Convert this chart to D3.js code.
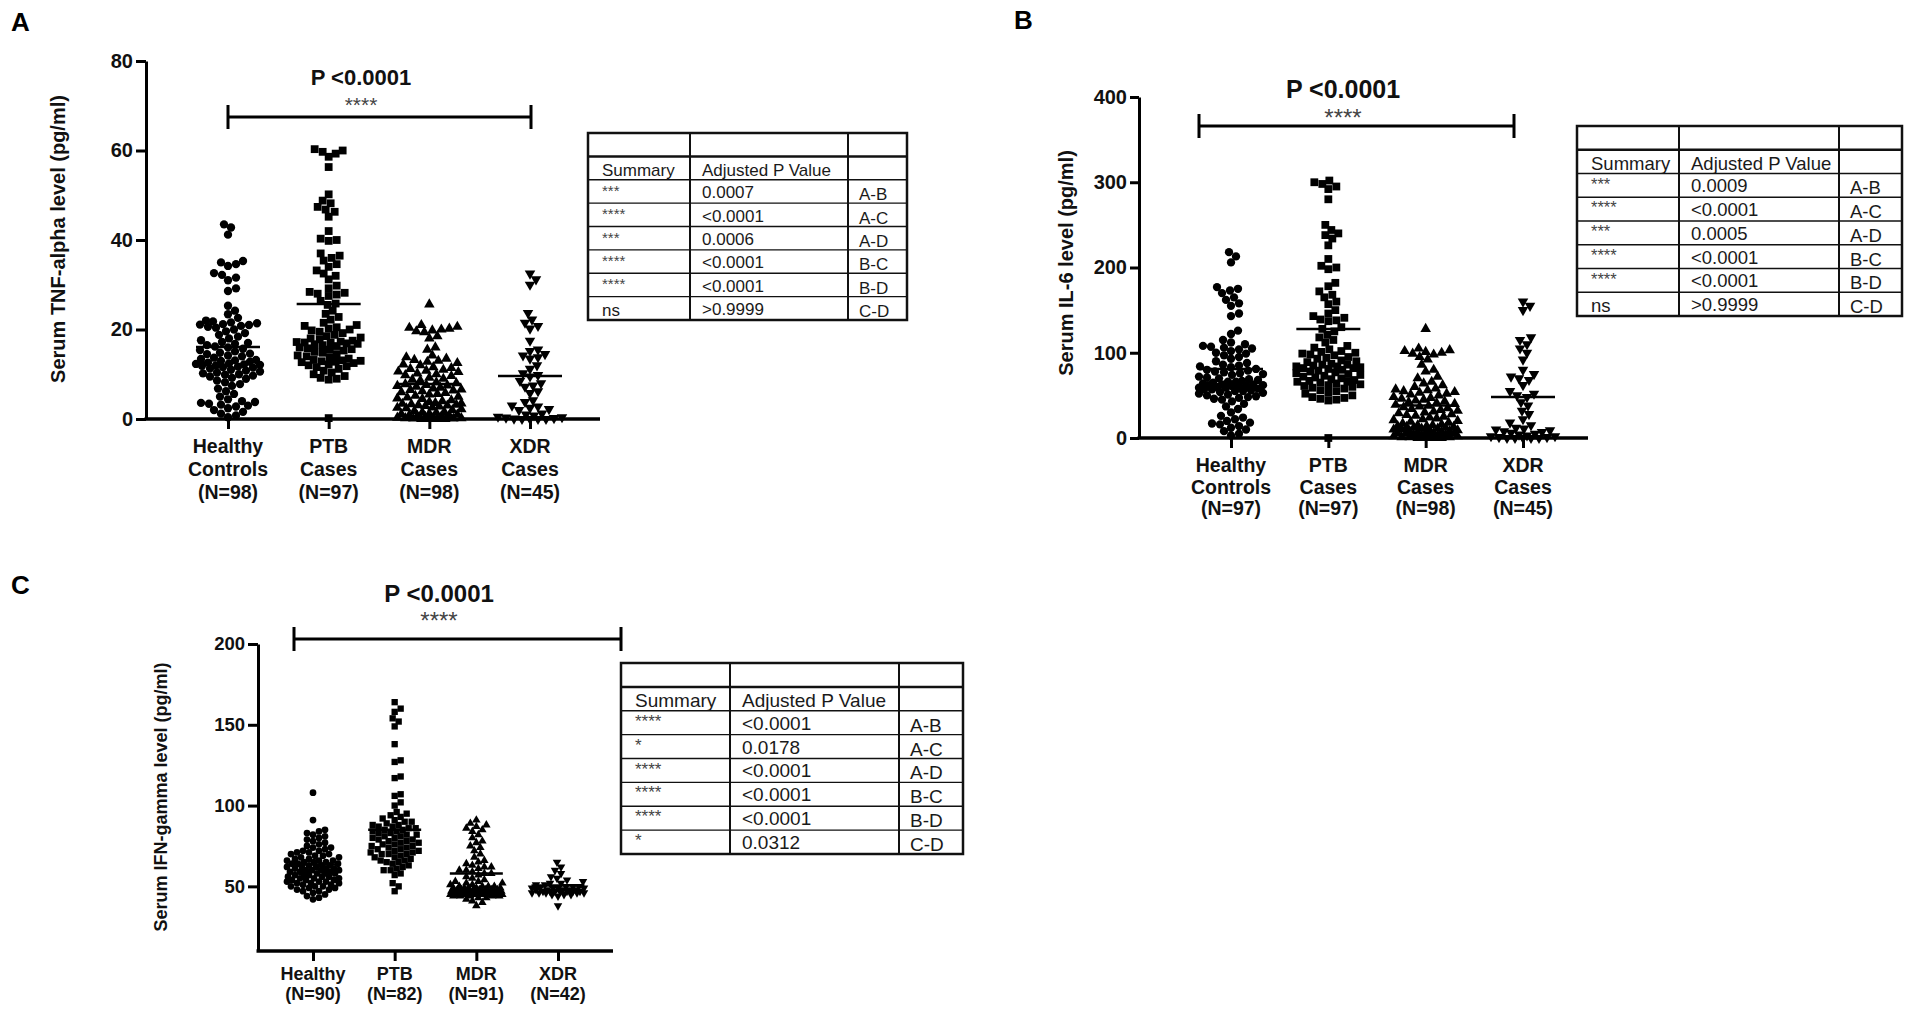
<!DOCTYPE html>
<html>
<head>
<meta charset="utf-8">
<script src="https://cdn.jsdelivr.net/npm/d3@7"></script>
<style>
  body { margin: 0; background: #fff; }
  svg { display: block; }
  text { font-family: 'Liberation Sans', Arial, sans-serif; }
</style>
</head>
<body>
<svg id="fig" width="1910" height="1020"></svg>
<script>
  // ---- data ----
  var groups = ['Healthy', 'PTB', 'MDR', 'XDR'];

  var tnfHealthy = [43.5, 42.8, 41.2, 35.3, 35.0, 34.6, 34.2, 32.6, 32.2, 31.6, 31.0, 29.2, 28.6, 25.3, 24.2, 23.4,
    22.6, 22.0, 21.8, 21.6, 21.4, 21.2, 21.0, 20.8, 20.4, 20.0, 19.6, 19.2, 18.8, 18.4, 18.0, 17.6, 17.2, 17.0, 16.8,
    16.5, 16.2, 16.0, 15.7, 15.4, 15.1, 14.8, 14.5, 14.2, 14.0, 13.7, 13.4, 13.2, 13.0, 12.8, 12.6, 12.4, 12.2, 12.1,
    12.0, 11.9, 11.7, 11.5, 11.3, 11.0, 10.8, 10.6, 10.4, 10.2, 10.0, 9.9, 9.7, 9.5, 9.2, 9.0, 8.6, 8.2, 7.8, 7.4, 6.8,
    6.2, 5.6, 5.0, 4.4, 4.0, 3.8, 3.6, 3.4, 3.2, 3.0, 2.8, 2.4, 2.0, 1.6, 1.2, 0.8, 0.4, 12.3, 13.1, 14.6, 21.1, 20.6, 11.6];
  var tnfPTB = [60.3, 60.0, 59.7, 59.3, 58.6, 56.3, 50.2, 48.8, 48.2, 47.4, 46.8, 46.3, 45.2, 42.0, 40.3, 40.0, 39.8,
    37.0, 36.5, 36.0, 35.4, 34.6, 34.0, 33.2, 32.5, 32.0, 31.2, 29.8, 29.2, 28.4, 28.2, 28.0, 27.8, 27.5, 26.4, 25.8,
    25.5, 24.2, 23.5, 22.8, 22.2, 21.5, 21.0, 20.8, 20.5, 20.2, 20.0, 19.8, 19.5, 19.2, 18.8, 18.5, 18.2, 18.0, 17.8,
    17.5, 17.3, 17.1, 17.0, 16.9, 16.7, 16.5, 16.3, 16.0, 15.8, 15.5, 15.3, 15.0, 14.8, 14.5, 14.2, 14.0, 13.8, 13.5,
    13.2, 13.0, 12.9, 12.7, 12.5, 12.2, 12.0, 11.6, 11.2, 10.8, 10.4, 10.0, 9.6, 9.2, 9.0, 8.8, 0.2, 17.2, 16.8, 13.1,
    12.8, 15.6, 11.8];
  var tnfMDR = [25.6, 21.0, 20.6, 20.4, 20.2, 20.0, 19.8, 19.6, 19.4, 18.5, 18.0, 16.0, 15.5, 14.2, 13.5, 13.2, 13.0,
    12.8, 12.5, 12.0, 11.6, 11.2, 11.0, 10.8, 10.5, 10.2, 10.0, 9.6, 9.2, 9.0, 8.6, 8.2, 8.0, 7.8, 7.5, 7.2, 7.0, 6.8,
    6.5, 6.2, 6.0, 5.8, 5.5, 5.2, 5.0, 4.8, 4.5, 4.2, 4.0, 3.8, 3.6, 3.4, 3.2, 3.0, 2.8, 2.6, 2.4, 2.2, 2.0, 1.8, 1.6,
    1.4, 1.2, 1.0, 0.9, 0.8, 0.6, 0.5, 0.4, 0.3, 0.2, 0.1, 0, 0, 0, 0, 12.2, 11.4, 10.6, 9.8, 8.8, 7.6, 7.4, 6.6, 6.4,
    5.6, 4.6, 3.5, 3.3, 3.1, 2.9, 2.5, 1.5, 1.1, 0.7, 0.2, 0.1, 13.8];
  var tnfXDR = [32.5, 31.2, 30.0, 23.7, 22.2, 21.5, 20.8, 20.2, 17.5, 15.5, 15.2, 14.5, 14.2, 13.8, 13.5, 12.0, 11.2,
    10.2, 9.8, 9.5, 8.5, 8.0, 7.5, 7.2, 6.2, 5.8, 4.2, 3.8, 3.0, 2.8, 2.5, 2.2, 2.0, 1.2, 1.0, 0.8, 0.5, 0.4, 0.3, 0.2,
    0.1, 0, 0, 0, 0];
  var tnfMeans = [16.1, 25.7, 7.8, 9.6];

  var il6Healthy = [218, 213, 206, 177, 175, 173, 170, 165, 162, 158, 155, 146, 143, 126, 122, 115, 112, 110, 108, 106,
    105, 104, 102, 99, 97, 95, 93, 90, 88, 86, 85, 83, 81, 80, 79, 78, 76, 75, 74, 72, 71, 69, 68, 67, 66, 65, 64, 63,
    62, 62, 61, 60, 60, 59, 58, 57, 56, 55, 54, 53, 52, 50, 49, 48, 47, 45, 43, 40, 37, 34, 30, 26, 24, 20, 18, 17, 16,
    12, 10, 8, 5, 3, 63, 61, 59, 57, 55, 66, 70, 77, 84, 100, 107, 51, 46, 22, 14];
  var il6PTB = [302, 300, 298, 295, 292, 280, 250, 244, 240, 238, 234, 226, 210, 202, 200, 198, 182, 178, 172, 168, 165,
    160, 157, 150, 146, 143, 141, 139, 138, 137, 130, 128, 125, 121, 118, 115, 112, 108, 106, 104, 102, 101, 100, 99,
    98, 97, 95, 93, 91, 90, 89, 87, 86, 85, 84, 83, 82, 81, 80, 79, 78, 77, 76, 75, 74, 72, 71, 70, 68, 67, 66, 65, 64,
    63, 62, 60, 59, 58, 56, 55, 53, 52, 50, 48, 47, 46, 45, 44, 0, 86, 84, 82, 69, 66, 61, 73, 94];
  var il6MDR = [128, 105, 103, 102, 101, 100, 99, 98, 95, 92, 86, 80, 78, 72, 70, 66, 64, 62, 60, 58, 56, 55, 54, 53,
    52, 50, 48, 47, 46, 44, 42, 41, 40, 39, 38, 36, 35, 34, 33, 32, 30, 29, 28, 27, 26, 25, 24, 22, 21, 20, 19, 18, 17,
    16, 15, 14, 14, 13, 13, 12, 12, 11, 11, 10, 10, 9, 8, 8, 7, 7, 6, 6, 5, 5, 4, 4, 3, 3, 2, 2, 1, 1, 0, 0, 0, 57, 51,
    45, 37, 31, 23, 15, 9, 6, 3, 1, 0, 43];
  var il6XDR = [160, 155, 150, 118, 115, 110, 105, 100, 92, 80, 75, 72, 70, 68, 62, 55, 52, 50, 48, 42, 38, 32, 28, 22,
    18, 15, 12, 10, 8, 7, 6, 5, 4, 3, 2, 2, 1, 1, 0, 0, 0, 0, 0, 9, 11];
  var il6Means = [81, 128, 38, 48];

  var ifnHealthy = [108, 91, 85, 84, 83, 82, 81, 80, 79, 78, 77, 76, 75, 74, 73, 72, 71, 70, 70, 69, 68, 67, 67, 66, 66,
    65, 65, 64, 64, 63, 63, 62, 62, 61, 61, 60, 60, 60, 59, 59, 58, 58, 58, 57, 57, 56, 56, 55, 55, 55, 54, 54, 53, 53,
    52, 52, 52, 51, 51, 50, 50, 49, 49, 48, 48, 47, 47, 46, 45, 44, 43, 42, 62, 63, 64, 59, 61, 65, 68, 71, 72, 74, 56,
    57, 53, 54, 60, 66, 69, 50];
  var ifnPTB = [164, 160, 158, 154, 152, 149, 138, 128, 127, 118, 117, 107, 106, 102, 96, 95, 94, 92, 91, 90, 89, 88,
    87, 86, 86, 85, 85, 84, 83, 82, 82, 81, 80, 80, 79, 78, 78, 77, 76, 76, 75, 75, 74, 73, 72, 72, 71, 70, 70, 69, 68,
    67, 66, 65, 65, 64, 63, 62, 61, 60, 60, 58, 57, 52, 50, 47, 93, 88, 84, 81, 79, 77, 74, 73, 71, 70, 68, 66, 83, 87,
    90, 100];
  var ifnMDR = [91, 89, 88, 87, 86, 85, 84, 82, 80, 78, 77, 75, 74, 72, 70, 68, 66, 65, 64, 63, 62, 62, 61, 60, 60, 59,
    58, 57, 56, 55, 54, 53, 52, 52, 51, 51, 50, 50, 50, 49, 49, 49, 49, 48, 48, 48, 48, 48, 47, 47, 47, 47, 47, 47, 46,
    46, 46, 46, 46, 46, 46, 45, 45, 45, 45, 45, 45, 45, 44, 44, 44, 44, 43, 43, 42, 41, 40, 38, 47, 46, 45, 48, 49, 50,
    44, 46, 47, 45, 48, 53, 58];
  var ifnXDR = [65, 62, 60, 58, 56, 55, 54, 53, 52, 52, 51, 51, 50, 50, 50, 49, 49, 49, 49, 48, 48, 48, 48, 48, 47, 47,
    47, 47, 47, 47, 46, 46, 46, 46, 46, 45, 45, 45, 44, 38, 49, 47];
  var ifnMeans = [63.5, 85, 58, 50.5];

  var labelsA = [['Healthy', 'Controls', '(N=98)'], ['PTB', 'Cases', '(N=97)'], ['MDR', 'Cases', '(N=98)'], ['XDR', 'Cases', '(N=45)']];
  var labelsB = [['Healthy', 'Controls', '(N=97)'], ['PTB', 'Cases', '(N=97)'], ['MDR', 'Cases', '(N=98)'], ['XDR', 'Cases', '(N=45)']];
  var labelsC = [['Healthy', '(N=90)'], ['PTB', '(N=82)'], ['MDR', '(N=91)'], ['XDR', '(N=42)']];

  var ticksA = [0, 20, 40, 60, 80];
  var ticksB = [0, 100, 200, 300, 400];
  var ticksC = [50, 100, 150, 200];

  var pairs = ['A-B', 'A-C', 'A-D', 'B-C', 'B-D', 'C-D'];
  var summaryA = ['***', '****', '***', '****', '****', 'ns'];
  var pvalA = ['0.0007', '<0.0001', '0.0006', '<0.0001', '<0.0001', '>0.9999'];
  var summaryB = ['***', '****', '***', '****', '****', 'ns'];
  var pvalB = ['0.0009', '<0.0001', '0.0005', '<0.0001', '<0.0001', '>0.9999'];
  var summaryC = ['****', '*', '****', '****', '****', '*'];
  var pvalC = ['<0.0001', '0.0178', '<0.0001', '<0.0001', '<0.0001', '0.0312'];

  var svg = d3.select('#fig');
  svg.append('rect').attr('width', 1910).attr('height', 1020).attr('fill', '#fff');

  var shapes = [d3.symbolCircle, d3.symbolSquare, d3.symbolTriangle, d3.symbolTriangle];

  // column-scatter layout: each point goes to the free spot closest to the centre line
  function swarm(values, y, d, maxHalf) {
    var order = d3.range(values.length).sort(function(a, b) { return values[a] - values[b]; });
    var placed = [];
    var out = new Array(values.length);
    order.forEach(function(i) {
      var py = y(values[i]);
      var best = 0, bestD = -1;
      for (var k = 0; k <= 2 * maxHalf; k++) {
        var dx = (k % 2 ? 1 : -1) * Math.ceil(k / 2);
        var minD = Infinity;
        placed.forEach(function(p) {
          if (Math.abs(p.y - py) < d) minD = Math.min(minD, Math.hypot(p.x - dx, p.y - py));
        });
        if (minD >= d) { best = dx; bestD = Infinity; break; }
        if (minD > bestD) { bestD = minD; best = dx; }
      }
      placed.push({ x: best, y: py });
      out[i] = best;
    });
    return out;
  }

  function panel(cfg, series, means, ticks, labels) {
    var g = svg.append('g');
    var x = d3.scalePoint().domain(groups).range(cfg.xr);
    var y = d3.scaleLinear().domain(cfg.dom).range(cfg.yr);

    g.append('text').attr('x', cfg.letter[0]).attr('y', cfg.letter[1])
      .attr('font-size', 26).attr('font-weight', 'bold').text(cfg.name);

    // y axis
    var ya = g.append('g').attr('transform', 'translate(' + cfg.x0 + ',0)')
      .call(d3.axisLeft(y).tickValues(ticks).tickSize(cfg.tick).tickSizeOuter(0).tickPadding(3));
    ya.select('.domain').attr('stroke-width', 3).attr('stroke', '#000');
    ya.selectAll('.tick line').attr('stroke-width', 3).attr('stroke', '#000');
    ya.selectAll('.tick text').attr('font-size', cfg.tickFs).attr('font-weight', 'bold')
      .attr('font-family', "'Liberation Sans', Arial, sans-serif").attr('fill', '#111');

    // x axis line + category ticks
    var base = cfg.yr[0];
    g.append('line').attr('x1', cfg.x0 - 1.5).attr('x2', cfg.x1).attr('y1', base).attr('y2', base)
      .attr('stroke', '#000').attr('stroke-width', 3.5);
    var xa = g.append('g').attr('transform', 'translate(0,' + base + ')')
      .call(d3.axisBottom(x).tickSize(10).tickSizeOuter(0).tickFormat(''));
    xa.select('.domain').remove();
    xa.selectAll('.tick line').attr('stroke-width', 3).attr('stroke', '#000');

    // category labels
    groups.forEach(function(c, i) {
      var t = g.append('text').attr('text-anchor', 'middle').attr('font-size', cfg.labFs)
        .attr('font-weight', 'bold').attr('fill', '#111');
      labels[i].forEach(function(line, j) {
        t.append('tspan').attr('x', x(c)).attr('y', cfg.labY[j]).text(line);
      });
    });

    // y label
    g.append('text').attr('transform', 'translate(' + cfg.yl[0] + ',' + cfg.yl[1] + ') rotate(-90)')
      .attr('text-anchor', 'middle').attr('dominant-baseline', 'central')
      .attr('font-size', cfg.ylFs).attr('font-weight', 'bold').attr('fill', '#111').text(cfg.ylabel);

    // points
    series.forEach(function(vals, i) {
      var offs = swarm(vals, y, cfg.ms * 0.95, cfg.maxHalf);
      var sym = d3.symbol().type(shapes[i]).size(i === 0 ? cfg.ms * cfg.ms * 0.85 : (i === 1 ? cfg.ms * cfg.ms * 0.95 : cfg.ms * cfg.ms * 0.75));
      g.append('g').selectAll('path').data(vals).enter().append('path')
        .attr('d', sym)
        .attr('fill', '#000')
        .attr('transform', function(v, k) {
          return 'translate(' + (x(groups[i]) + offs[k]) + ',' + y(v) + ')' + (i === 3 ? ' rotate(180)' : '');
        });
    });

    // mean lines
    g.append('g').selectAll('line').data(means).enter().append('line')
      .attr('x1', function(m, i) { return x(groups[i]) - cfg.mw / 2; })
      .attr('x2', function(m, i) { return x(groups[i]) + cfg.mw / 2; })
      .attr('y1', function(m) { return y(m); })
      .attr('y2', function(m) { return y(m); })
      .attr('stroke', '#000').attr('stroke-width', 2.5);

    // overall comparison bracket
    var b = cfg.br;
    g.append('path')
      .attr('d', 'M' + b[0] + ',' + (b[2] - 12) + 'V' + (b[2] + 12) + 'M' + b[0] + ',' + b[2] + 'H' + b[1] +
        'M' + b[1] + ',' + (b[2] - 12) + 'V' + (b[2] + 12))
      .attr('stroke', '#000').attr('stroke-width', 3).attr('fill', 'none');
    g.append('text').attr('x', cfg.p[0]).attr('y', cfg.p[1]).attr('text-anchor', 'middle')
      .attr('font-size', cfg.p[2]).attr('font-weight', 'bold').attr('fill', '#111').text('P <0.0001');
    g.append('text').attr('x', cfg.p[0]).attr('y', cfg.st[0]).attr('text-anchor', 'middle')
      .attr('font-size', cfg.st[1]).attr('fill', '#444').text('****');
  }

  function table(t, summary, pvals) {
    var g = svg.append('g');
    var xs = t.xs;
    var fs = t.fs;
    var h = (t.y1 - t.y0) / 8;
    var rowTop = function(r) { return t.y0 + r * h; };

    g.append('text').attr('x', xs[0] + 14).attr('y', rowTop(2) - 4).attr('font-size', fs).attr('fill', '#1a1a1a').text('Summary');
    g.append('text').attr('x', xs[1] + 12).attr('y', rowTop(2) - 4).attr('font-size', fs).attr('fill', '#1a1a1a').text('Adjusted P Value');

    summary.forEach(function(s, i) {
      var r = i + 2;
      var star = s !== 'ns';
      g.append('text').attr('x', xs[0] + 14).attr('y', star ? rowTop(r) + 16 : rowTop(r + 1) - 4)
        .attr('font-size', star ? fs - 2 : fs).attr('fill', star ? '#444' : '#1a1a1a').text(s);
      g.append('text').attr('x', xs[1] + 12).attr('y', rowTop(r + 1) - 5)
        .attr('font-size', fs).attr('fill', '#1a1a1a').text(pvals[i]);
      g.append('text').attr('x', xs[2] + 11).attr('y', rowTop(r + 1) - 3)
        .attr('font-size', fs).attr('fill', '#1a1a1a').text(pairs[i]);
    });

    // grid
    d3.range(1, 8).forEach(function(r) {
      g.append('line').attr('x1', xs[0]).attr('x2', xs[3]).attr('y1', rowTop(r)).attr('y2', rowTop(r))
        .attr('stroke', '#111').attr('stroke-width', r === 1 ? 2.5 : 1.3);
    });
    [xs[1], xs[2]].forEach(function(xx) {
      g.append('line').attr('x1', xx).attr('x2', xx).attr('y1', t.y0).attr('y2', t.y1)
        .attr('stroke', '#111').attr('stroke-width', 2);
    });
    g.append('rect').attr('x', xs[0]).attr('y', t.y0).attr('width', xs[3] - xs[0]).attr('height', t.y1 - t.y0)
      .attr('fill', 'none').attr('stroke', '#111').attr('stroke-width', 2.5);
  }

  panel({
    name: 'A', letter: [11, 31], x0: 146, x1: 600, xr: [228, 530], yr: [419, 61], dom: [0, 80],
    tick: 10, tickFs: 20, labFs: 19.5, labY: [453, 476, 499], yl: [58, 239], ylFs: 20,
    ylabel: 'Serum TNF-alpha level (pg/ml)', br: [228, 531, 117], p: [361, 85, 22], st: [112, 21],
    mw: 64, ms: 8, maxHalf: 32
  }, [tnfHealthy, tnfPTB, tnfMDR, tnfXDR], tnfMeans, ticksA, labelsA);

  panel({
    name: 'B', letter: [1014, 29], x0: 1139, x1: 1588, xr: [1231, 1523], yr: [438, 97], dom: [0, 400],
    tick: 9, tickFs: 20, labFs: 19.5, labY: [472, 494, 515], yl: [1066, 263], ylFs: 20,
    ylabel: 'Serum IL-6 level (pg/ml)', br: [1199, 1514, 126], p: [1343, 98, 25], st: [126, 24],
    mw: 64, ms: 8, maxHalf: 32
  }, [il6Healthy, il6PTB, il6MDR, il6XDR], il6Means, ticksB, labelsB);

  panel({
    name: 'C', letter: [11, 594], x0: 258, x1: 613, xr: [313, 558], yr: [951, 644], dom: [10, 200],
    tick: 10, tickFs: 18.5, labFs: 18, labY: [980, 1000], yl: [161, 797], ylFs: 18,
    ylabel: 'Serum IFN-gamma level (pg/ml)', br: [294, 621, 639], p: [439, 602, 24], st: [629, 24],
    mw: 53, ms: 6.5, maxHalf: 26
  }, [ifnHealthy, ifnPTB, ifnMDR, ifnXDR], ifnMeans, ticksC, labelsC);

  table({ xs: [588, 690, 848, 907], y0: 133, y1: 320, fs: 17 }, summaryA, pvalA);
  table({ xs: [1577, 1679, 1839, 1902], y0: 126, y1: 316, fs: 18.5 }, summaryB, pvalB);
  table({ xs: [621, 730, 899, 963], y0: 663, y1: 854, fs: 19 }, summaryC, pvalC);
</script>
</body>
</html>
